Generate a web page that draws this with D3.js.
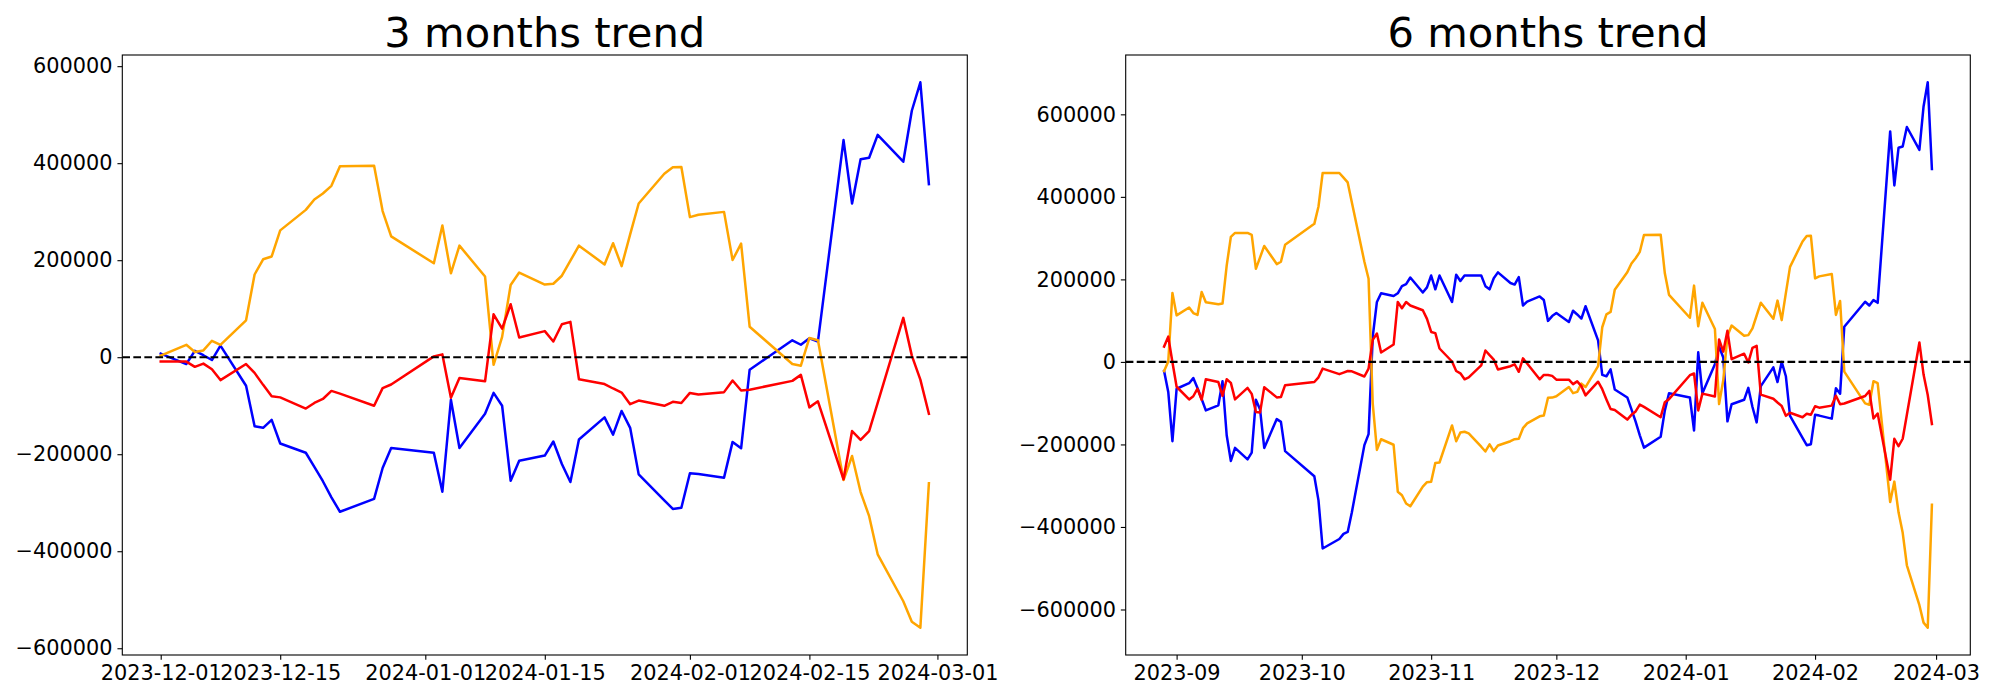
<!DOCTYPE html>
<html>
<head>
<meta charset="utf-8">
<script src="https://cdn.jsdelivr.net/npm/d3@7"></script>
<style>
  html, body { margin: 0; padding: 0; background: #fff; }
  svg { display: block; }
  text { font-family: "DejaVu Sans", sans-serif; }
</style>
</head>
<body>
<svg id="chart" width="2000" height="700"></svg>
<script>
// ---------------- DATA ----------------
const dates3m = [
  "2023-12-01","2023-12-04","2023-12-05","2023-12-06","2023-12-07","2023-12-08","2023-12-11","2023-12-12","2023-12-13","2023-12-14","2023-12-15","2023-12-18","2023-12-19","2023-12-20","2023-12-21","2023-12-22","2023-12-26","2023-12-27","2023-12-28",
  "2024-01-02","2024-01-03","2024-01-04","2024-01-05","2024-01-08","2024-01-09","2024-01-10","2024-01-11","2024-01-12","2024-01-15","2024-01-16","2024-01-17","2024-01-18","2024-01-19","2024-01-22","2024-01-23","2024-01-24","2024-01-25","2024-01-26","2024-01-29","2024-01-30","2024-01-31",
  "2024-02-01","2024-02-02","2024-02-05","2024-02-06","2024-02-07","2024-02-08","2024-02-13","2024-02-14","2024-02-15","2024-02-16","2024-02-19","2024-02-20","2024-02-21","2024-02-22","2024-02-23","2024-02-26","2024-02-27","2024-02-28","2024-02-29"
];
const blue3m = [
  7400, -14100, 13200, 4100, -5800, 24000, -58800, -142300, -145600, -129100, -177900, -197000, -225900, -255700, -288800, -318600, -292100, -228400, -187000,
  -197000, -277200, -87700, -187000, -116700, -73600, -100100, -254900, -213500, -202700, -173800, -220100, -257400, -169600, -124100, -159700, -110900, -145600, -241600, -295000, -312800, -310300,
  -239100, -241000, -248300, -174600, -187800, -25700, 34800, 25700, 38900, 32300, 447700, 316900, 408000, 411300, 458400, 403000, 508100, 566800, 356700
];
const orange3m = [
  3300, 25600, 10800, 14000, 33900, 25600, 76100, 170500, 201900, 207700, 261500, 303700, 325200, 337600, 353300, 393900, 394700, 301200, 249100,
  193600, 271400, 172900, 230000, 166300, -15700, 42000, 149000, 174600, 149800, 151400, 168000, 199000, 230000, 191200, 235000, 187800, 253200, 316900, 378200, 391400, 392200,
  288800, 293800, 299600, 200300, 234200, 62900, -14100, -17400, 39700, 34800, -253200, -203600, -278000, -327700, -406300, -503100, -545300, -557700, -259800
];
const red3m = [
  -9100, -9100, -19900, -13200, -24800, -47200, -14100, -32300, -57000, -80300, -82800, -105900, -94300, -86100, -69500, -75000, -100100, -63700, -56300,
  1700, 5800, -83600, -43000, -49700, 88500, 58800, 109200, 40500, 53800, 32300, 67900, 72800, -45500, -55400, -64500, -72800, -96800, -89400, -100100, -91900, -94300,
  -73600, -77000, -72000, -48000, -68700, -67000, -48800, -36400, -103400, -91000, -251600, -152300, -170500, -152300, -94000, 81100, 3300, -46300, -116700
];

const dates6m = [
  "2023-08-29","2023-08-30","2023-08-31",
  "2023-09-01","2023-09-04","2023-09-05","2023-09-06","2023-09-07","2023-09-08","2023-09-11","2023-09-12","2023-09-13","2023-09-14","2023-09-15","2023-09-18","2023-09-19","2023-09-20","2023-09-21","2023-09-22","2023-09-25","2023-09-26","2023-09-27",
  "2023-10-04","2023-10-05","2023-10-06","2023-10-10","2023-10-11","2023-10-12","2023-10-13","2023-10-16","2023-10-17","2023-10-18","2023-10-19","2023-10-20","2023-10-23","2023-10-24","2023-10-25","2023-10-26","2023-10-27","2023-10-30","2023-10-31",
  "2023-11-01","2023-11-02","2023-11-03","2023-11-06","2023-11-07","2023-11-08","2023-11-09","2023-11-10","2023-11-13","2023-11-14","2023-11-15","2023-11-16","2023-11-17","2023-11-20","2023-11-21","2023-11-22","2023-11-23","2023-11-24","2023-11-27","2023-11-28","2023-11-29","2023-11-30",
  "2023-12-01","2023-12-04","2023-12-05","2023-12-06","2023-12-07","2023-12-08","2023-12-11","2023-12-12","2023-12-13","2023-12-14","2023-12-15","2023-12-18","2023-12-19","2023-12-20","2023-12-21","2023-12-22","2023-12-26","2023-12-27","2023-12-28",
  "2024-01-02","2024-01-03","2024-01-04","2024-01-05","2024-01-08","2024-01-09","2024-01-10","2024-01-11","2024-01-12","2024-01-15","2024-01-16","2024-01-17","2024-01-18","2024-01-19","2024-01-22","2024-01-23","2024-01-24","2024-01-25","2024-01-26","2024-01-29","2024-01-30","2024-01-31",
  "2024-02-01","2024-02-02","2024-02-05","2024-02-06","2024-02-07","2024-02-08","2024-02-13","2024-02-14","2024-02-15","2024-02-16","2024-02-19","2024-02-20","2024-02-21","2024-02-22","2024-02-23","2024-02-26","2024-02-27","2024-02-28","2024-02-29"
];
const blue6m = [
  -22000, -72700, -192200,
  -65000, -51600, -39200, -63100, -89900, -117600, -105200, -46800, -177800, -240000, -208400, -236100, -219900, -91800, -115600, -208400, -138600, -145300, -216100,
  -277200, -335600, -452200, -429200, -416800, -412000, -364200, -201700, -175000, 61200, 145300, 166300, 159700, 166300, 183600, 188400, 204600, 168300, 180700,
  209400, 175900, 209400, 145300, 211300, 196000, 209400, 209400, 209400, 183600, 175900, 202700, 217000, 191200, 187400, 205500, 136700, 146300, 158700, 150100, 99400, 111100,
  118300, 96800, 124100, 115000, 105100, 134900, 52100, -31400, -34700, -18200, -67000, -86100, -115000, -144800, -177900, -207700, -181200, -117500, -76100,
  -86100, -166300, 23200, -76100, -5800, 37300, 10800, -144000, -102600, -91800, -62900, -109200, -146500, -58700, -13200, -48800, 0, -34700, -130700, -184100, -201900, -199400,
  -128200, -130100, -137400, -63700, -76900, 85200, 145700, 136600, 149800, 143200, 558600, 427800, 518900, 522200, 569300, 513900, 619000, 677700, 467600
];
const orange6m = [
  -22000, 1000, 167300,
  112800, 131900, 118500, 113800, 169200, 144400, 139600, 141500, 233300, 303100, 312600, 312600, 307800, 225600, 253300, 281100, 237100, 242800, 283900,
  334600, 376700, 457900, 457900, 446500, 435000, 386200, 242800, 201700, -101300, -213200, -187400, -200800, -314500, -323100, -343200, -349900, -302100, -291600,
  -290600, -244700, -243800, -153900, -192200, -171100, -169200, -173000, -205500, -217000, -199800, -216100, -202700, -192200, -187400, -186400, -160600, -149100, -131900, -130000, -87000, -86500,
  -83200, -60900, -75700, -72500, -52600, -60900, -10400, 84000, 115400, 121200, 175000, 217200, 238700, 251100, 266800, 307400, 308200, 214700, 162600,
  107100, 184900, 86400, 143500, 79800, -102200, -44500, 62500, 88100, 63300, 64900, 81500, 112500, 143500, 104700, 148500, 101300, 166700, 230400, 291700, 304900, 305700,
  202300, 207300, 213100, 113800, 147700, -23600, -100600, -103900, -46800, -51700, -339700, -290100, -364500, -414200, -492800, -589600, -631800, -644200, -346300
];
const red6m = [
  37300, 61200, -1000,
  -60200, -90800, -83200, -65000, -91800, -42100, -48800, -82200, -42100, -50700, -90800, -63100, -77400, -121400, -122400, -61200, -86000, -85100, -56400,
  -48800, -37300, -16300, -29600, -25800, -22000, -22900, -35400, -16300, 53500, 68800, 22900, 42100, 145300, 130000, 145300, 136700, 125200, 104200,
  72600, 69800, 32500, 1000, -22000, -27700, -42100, -37300, -8600, 27700, 16300, 5700, -18200, -10500, -5700, -23900, 8600, -3800, -42100, -31500, -31500, -33900,
  -43000, -43000, -53800, -47100, -58700, -81100, -48000, -66200, -90900, -114200, -116700, -139800, -128200, -120000, -103400, -108900, -134000, -97600, -90200,
  -32200, -28100, -117500, -76900, -83600, 54600, 24900, 75300, 6600, 19900, -1600, 34000, 38900, -79400, -89300, -98400, -106700, -130700, -123300, -134000, -125800, -128200,
  -107500, -110900, -105900, -81900, -102600, -100900, -82700, -70300, -137300, -124900, -285500, -186200, -204400, -186200, -127900, 47200, -30600, -80200, -150600
];

const yTicks = [-600000, -400000, -200000, 0, 200000, 400000, 600000];
const xTicks3m = ["2023-12-01","2023-12-15","2024-01-01","2024-01-15","2024-02-01","2024-02-15","2024-03-01"];
const xTicks6m = ["2023-09-01","2023-10-01","2023-11-01","2023-12-01","2024-01-01","2024-02-01","2024-03-01"];
const titles = ["3 months trend", "6 months trend"];
const seriesColors = ["blue", "orange", "red"];

// ---------------- DRAWING ----------------
const svg = d3.select("#chart");
svg.append("rect").attr("width", 2000).attr("height", 700).attr("fill", "#fff");
const parse = d3.utcParse("%Y-%m-%d");
const FS = 20.83, TICK = 4.86, PAD = 4.86;

function panel(opts) {
  const { x0, x1, y0, y1, dates, series, xTicks, xFmt, title } = opts;
  const d = dates.map(parse);
  const xs = d3.extent(d);
  const xspan = xs[1] - xs[0];
  const x = d3.scaleUtc()
    .domain([new Date(+xs[0] - 0.05 * xspan), new Date(+xs[1] + 0.05 * xspan)])
    .range([x0, x1]);
  const all = series.flat();
  const ys = d3.extent(all);
  const yspan = ys[1] - ys[0];
  const y = d3.scaleLinear()
    .domain([ys[0] - 0.05 * yspan, ys[1] + 0.05 * yspan])
    .range([y1, y0]);

  const g = svg.append("g");

  // lines
  const line = d3.line().x((v, i) => x(d[i])).y(v => y(v));
  series.forEach((s, k) => {
    g.append("path")
      .datum(s)
      .attr("d", line)
      .attr("fill", "none")
      .attr("stroke", seriesColors[k])
      .attr("stroke-width", 2.5)
      .attr("stroke-linejoin", "round")
      .attr("stroke-linecap", "square");
  });

  // zero dashed line
  g.append("line")
    .attr("x1", x0).attr("x2", x1)
    .attr("y1", y(0)).attr("y2", y(0))
    .attr("stroke", "#000")
    .attr("stroke-width", 2.08)
    .attr("stroke-dasharray", "7.7,3.33");

  // axes
  const xAxis = d3.axisBottom(x)
    .tickValues(xTicks.map(parse))
    .tickFormat(d3.utcFormat(xFmt))
    .tickSize(TICK).tickPadding(PAD).tickSizeOuter(0);
  const gx = g.append("g").attr("transform", `translate(0,${y1})`).call(xAxis);
  const yAxis = d3.axisLeft(y)
    .tickValues(yTicks)
    .tickFormat(d3.format("d"))
    .tickSize(TICK).tickPadding(PAD).tickSizeOuter(0);
  const gy = g.append("g").attr("transform", `translate(${x0},0)`).call(yAxis);
  [gx, gy].forEach(a => {
    a.select(".domain").remove();
    a.selectAll(".tick line").attr("stroke", "#000").attr("stroke-width", 1.1);
    a.selectAll(".tick text")
      .attr("fill", "#000")
      .style("font-family", '"DejaVu Sans", sans-serif')
      .style("font-size", FS + "px");
  });

  // frame
  g.append("rect")
    .attr("x", x0).attr("y", y0)
    .attr("width", x1 - x0).attr("height", y1 - y0)
    .attr("fill", "none")
    .attr("stroke", "#000")
    .attr("stroke-width", 1.1);

  // title
  g.append("text")
    .attr("x", (x0 + x1) / 2)
    .attr("y", y0 - 8.33)
    .attr("text-anchor", "middle")
    .style("font-family", '"DejaVu Sans", sans-serif')
    .style("font-size", "41.67px")
    .attr("fill", "#000")
    .text(title);
}

panel({
  x0: 122.3, x1: 967.3, y0: 55, y1: 655,
  dates: dates3m, series: [blue3m, orange3m, red3m],
  xTicks: xTicks3m, xFmt: "%Y-%m-%d", title: titles[0]
});
panel({
  x0: 1125.7, x1: 1970.3, y0: 55, y1: 655,
  dates: dates6m, series: [blue6m, orange6m, red6m],
  xTicks: xTicks6m, xFmt: "%Y-%m", title: titles[1]
});
</script>
</body>
</html>
